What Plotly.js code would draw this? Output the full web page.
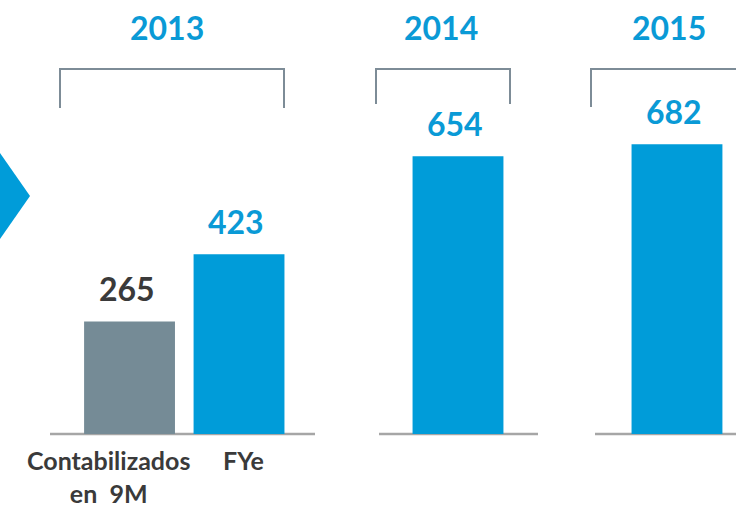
<!DOCTYPE html>
<html>
<head>
<meta charset="utf-8">
<script src="https://cdn.plot.ly/plotly-3.0.1.min.js"></script>
<style>html,body{margin:0;padding:0;background:#fff;}#chart{width:736px;height:511px;}</style>
</head>
<body>
<div id="chart"></div>
<script>
// ---- data ----
var categories = ["Contabilizados en 9M", "FYe", "2014", "2015"];
var values = [265, 423, 654, 682];
var barColors = ["#758B96", "#009CD9", "#009CD9", "#009CD9"];
var labelColors = ["#3A3A3A", "#0A9AD6", "#0A9AD6", "#0A9AD6"];
var xTickLabels = ["Contabilizados<br>en  9M", "FYe"];
var years = ["2013", "2014", "2015"];
var slotOrder = ["Contabilizados en 9M", "FYe", " ", "2014", "  ", "2015"];

// ---- layout helpers (pixel -> paper) ----
var W = 736, H = 511, B = 77, PH = H - B;
function px(x) { return x / W; }
function py(y) { return (PH - y) / PH; }

var shapes = [];
// baseline segments
[[50, 315], [379, 538], [595, 736]].forEach(function (s) {
  shapes.push({type: 'line', xref: 'paper', yref: 'paper', x0: px(s[0]), x1: px(s[1]), y0: py(434), y1: py(434),
    line: {color: '#A6A6A6', width: 2.5}, layer: 'below'});
});
// brackets
[[60, 284, 108], [376, 510, 104], [591, 745, 107]].forEach(function (b) {
  shapes.push({type: 'path', xref: 'paper', yref: 'paper',
    path: 'M ' + px(b[0]) + ' ' + py(b[2]) + ' L ' + px(b[0]) + ' ' + py(69) + ' L ' + px(b[1]) + ' ' + py(69) + ' L ' + px(b[1]) + ' ' + py(b[2]),
    line: {color: '#7D8C97', width: 2}});
});
// chevron on left edge
shapes.push({type: 'path', xref: 'paper', yref: 'paper',
  path: 'M ' + px(-5) + ' ' + py(153) + ' L ' + px(0) + ' ' + py(153) + ' L ' + px(30) + ' ' + py(196) + ' L ' + px(0) + ' ' + py(239) + ' L ' + px(-5) + ' ' + py(239) + ' Z',
  fillcolor: '#009CD9', line: {width: 0}});

var annotations = [];
// year labels
var yearX = [167, 441, 669];
years.forEach(function (t, i) {
  annotations.push({text: t, xref: 'paper', yref: 'paper', x: px(yearX[i]), y: py(27), xanchor: 'center', yanchor: 'middle',
    showarrow: false, font: {family: 'Lato, sans-serif', size: 32, color: '#0A9AD6', weight: 'bold'}});
});
// value labels (positioned by category slot index on the x axis)
categories.forEach(function (c, i) {
  annotations.push({text: String(values[i]), x: slotOrder.indexOf(c), y: values[i], xref: 'x', yref: 'y',
    xanchor: 'center', yanchor: 'bottom',
    yshift: 11, xshift: -3, showarrow: false, font: {family: 'Lato, sans-serif', size: 32, color: labelColors[i], weight: 'bold'}});
});
// x tick labels
var tickX = [108, 244];
xTickLabels.forEach(function (t, i) {
  annotations.push({text: t, xref: 'paper', yref: 'paper', x: px(tickX[i]), y: py(443), xanchor: 'center', yanchor: 'top',
    align: 'center', showarrow: false, font: {family: 'Lato, sans-serif', size: 25, color: '#3A3A3A', weight: 'bold'}});
});

var trace = {
  type: 'bar', x: categories, y: values, width: 0.83,
  marker: {color: barColors, line: {width: 0}},
  hoverinfo: 'skip', showlegend: false
};

var layout = {
  width: W, height: H,
  margin: {l: 0, r: 0, t: 0, b: B, pad: 0},
  paper_bgcolor: '#ffffff', plot_bgcolor: '#ffffff',
  showlegend: false,
  xaxis: {type: 'category', categoryorder: 'array', categoryarray: slotOrder,
    range: [-1.183, 5.539], showticklabels: false, showgrid: false, zeroline: false, showline: false, ticks: ''},
  yaxis: {range: [0, 1021.7], showticklabels: false, showgrid: false, zeroline: false, showline: false, ticks: ''},
  shapes: shapes,
  annotations: annotations
};

Plotly.newPlot('chart', [trace], layout, {displayModeBar: false, staticPlot: true});
</script>
</body>
</html>
